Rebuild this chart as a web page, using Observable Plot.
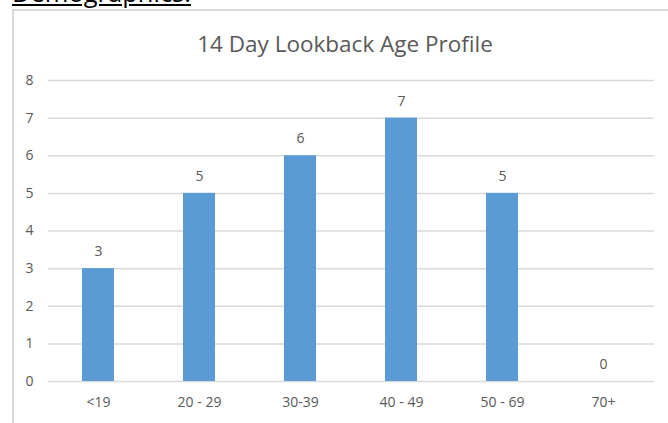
<!DOCTYPE html>
<html>
<head>
<meta charset="utf-8">
<script src="https://cdn.jsdelivr.net/npm/d3@7"></script>
<script src="https://cdn.jsdelivr.net/npm/@observablehq/plot@0.6"></script>
<style>
  html, body { margin: 0; padding: 0; background: #fff; overflow: hidden; }
  #wrap { position: relative; width: 668px; height: 423px; overflow: hidden; font-family: "Open Sans", "Noto Sans", sans-serif; }
  #heading { position: absolute; left: 12px; top: -20px; font-size: 25.5px; line-height: 25px; color: #000; text-decoration: underline; font-family: "Open Sans", sans-serif; }
  #frame { position: absolute; left: 12px; top: 9px; width: 700px; height: 500px; border-left: 2px solid #d9d9d9; border-top: 2px solid #d9d9d9; }
  #title { position: absolute; left: 0; width: 690px; top: 28px; text-align: center; font-size: 22.5px; color: #595959; }
  #chart { position: absolute; left: 0; top: 0; }
</style>
</head>
<body>
<div id="wrap">
  <div id="heading">Demographics:</div>
  <div id="frame"></div>
  <div id="title">14 Day Lookback Age Profile</div>
  <div id="chart"></div>
</div>
<script>
const categories = ["<19", "20 - 29", "30-39", "40 - 49", "50 - 69", "70+"];
const values = [3, 5, 6, 7, 5, 0];
const yTicks = [0, 1, 2, 3, 4, 5, 6, 7, 8];

const data = categories.map((c, i) => ({category: c, value: values[i]}));

const chart = Plot.plot({
  width: 668,
  height: 423,
  marginLeft: 48,
  marginRight: 14,
  marginTop: 80,
  marginBottom: 42,
  style: {fontFamily: "'Open Sans', 'Noto Sans', sans-serif", fontSize: "14px", color: "#595959", background: "transparent"},
  x: {domain: categories, paddingInner: 0.68, paddingOuter: 0.34, label: null, tickSize: 0, tickPadding: 16},
  y: {domain: [0, 8], ticks: yTicks, label: null, tickSize: 0, tickPadding: 15},
  marks: [
    Plot.gridY(yTicks, {stroke: "#d9d9d9", strokeOpacity: 1, strokeWidth: 1.5}),
    Plot.barY(data, {x: "category", y: "value", fill: "#5b9bd5"}),
    Plot.axisX({tickSize: 0, tickPadding: 16, fontSize: 14, fill: "#595959"}),
    Plot.axisY({ticks: yTicks, tickSize: 0, tickPadding: 15, fontSize: 14, fill: "#595959"}),
    Plot.text(data, {x: "category", y: "value", text: d => String(d.value), dy: -17, fill: "#595959", fontSize: 14})
  ]
});
document.getElementById("chart").appendChild(chart);
</script>
</body>
</html>
